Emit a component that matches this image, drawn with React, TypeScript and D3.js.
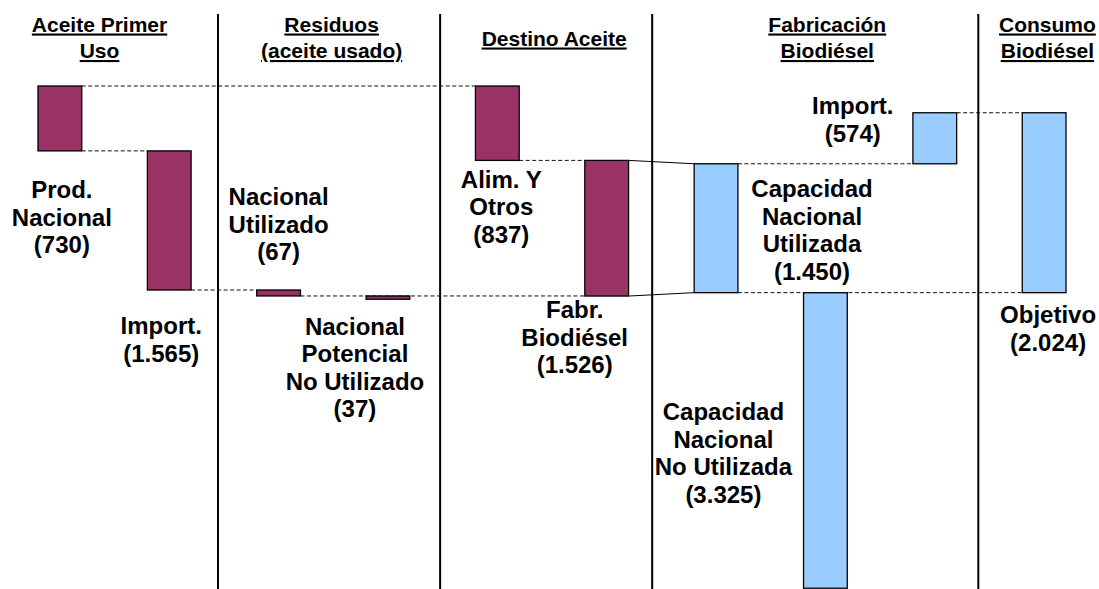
import React from 'react';
import * as d3 from 'd3';

// bars, left to right
const barIds = ['prod', 'import', 'nacUtil', 'nacPot', 'alim', 'fabr', 'capUtil', 'capNoUtil', 'importBio', 'objetivo'];
const barValues = [730, 1565, 67, 37, 837, 1526, 1450, 3325, 574, 2024];
const barLabels = [
    ['Prod.', 'Nacional'],
    ['Import.'],
    ['Nacional', 'Utilizado'],
    ['Nacional', 'Potencial', 'No Utilizado'],
    ['Alim. Y', 'Otros'],
    ['Fabr.', 'Biodiésel'],
    ['Capacidad', 'Nacional', 'Utilizada'],
    ['Capacidad', 'Nacional', 'No Utilizada'],
    ['Import.'],
    ['Objetivo'],
];
const barProduct = ['aceite', 'aceite', 'aceite', 'aceite', 'aceite', 'aceite', 'biodiesel', 'biodiesel', 'biodiesel', 'biodiesel'];

const sectionTitles = [
    ['Aceite Primer', 'Uso'],
    ['Residuos', '(aceite usado)'],
    ['Destino Aceite'],
    ['Fabricación', 'Biodiésel'],
    ['Consumo', 'Biodiésel'],
];

const width = 1099;
const height = 589;
const font = '"Liberation Sans", Arial, Helvetica, sans-serif';
const colors = { aceite: '#993366', biodiesel: '#99CCFF' };

const es = d3.formatLocale({ decimal: ',', thousands: '.', grouping: [3], currency: ['', '€'] });
const fmt = es.format(',');

// waterfall starts
const starts: number[] = [];
starts[0] = 0;
starts[1] = starts[0] + barValues[0];
starts[2] = starts[1] + barValues[1];
starts[3] = starts[2] + barValues[2];
starts[4] = 0;
starts[5] = starts[4] + barValues[4];
// biodiesel side centred on the "Fabr. Biodiésel" bar
const bioTop = starts[5] + barValues[5] / 2 - (barValues[8] + barValues[6] / 2);
starts[8] = bioTop;
starts[6] = bioTop + barValues[8];
starts[7] = starts[6] + barValues[6];
starts[9] = bioTop;
const ends = starts.map((s, i) => s + barValues[i]);

const x = d3.scaleBand<string>().domain(barIds).range([38, 1066]).paddingInner(0.6);
const y = d3.scaleLinear().domain([0, barValues[0] + barValues[1]]).range([86, 290]);
// slot units: 0 = left of first bar, 1 = left of second bar ...
const slot = d3.scaleLinear().domain([0, 9]).range([x(barIds[0])!, x(barIds[9])!]);

const dividerSlots = [1.646, 3.677, 5.616, 8.598];
const titleSlots = [0.5625, 2.685, 4.72, 7.217, 9.23];

const bw = x.bandwidth();
const left = (i: number) => x(barIds[i])!;
const right = (i: number) => x(barIds[i])! + bw;
const cx = (i: number) => x(barIds[i])! + bw / 2;

// label placement relative to bar: [dx from centre, anchor edge, dy of first line centre]
const labelPlace: [number, 'top' | 'bottom', number][] = [
    [2, 'bottom', 39],
    [-8, 'bottom', 36],
    [0, 'top', -93],
    [-33, 'bottom', 27],
    [4, 'bottom', 19],
    [-32, 'bottom', 14],
    [96, 'top', 25],
    [-102, 'top', 119],
    [-82, 'top', -7],
    [4, 'bottom', 22],
];
const lineH = 27.5;

// dashed guides: [y value, from bar (right edge), to bar (left edge)]
const guides: [number, number, number][] = [
    [starts[0], 0, 4],
    [ends[0], 0, 1],
    [ends[1], 1, 2],
    [ends[2], 2, 5],
    [ends[4], 4, 5],
    [starts[6], 6, 8],
    [ends[6], 6, 9],
    [starts[8], 8, 9],
];

export default function App() {
    return (
        <svg width={width} height={height} style={{ position: 'absolute', left: 0, top: 0, background: '#fff' }}
            fontFamily={font}>
            {/* section dividers */}
            {dividerSlots.map((s, i) => (
                <line key={'d' + i} x1={slot(s)} x2={slot(s)} y1={14} y2={height} stroke="#000" strokeWidth={2} />
            ))}

            {/* titles */}
            {sectionTitles.map((lines, i) => (
                <text key={'t' + i} x={slot(titleSlots[i])} textAnchor="middle" fontSize={21} fontWeight="bold"
                    textDecoration="underline">
                    {lines.map((l, j) => (
                        <tspan key={j} x={slot(titleSlots[i])}
                            y={lines.length === 1 ? 45.5 : 31.5 + j * 26.5}>{l}</tspan>
                    ))}
                </text>
            ))}

            {/* bars */}
            {barIds.map((id, i) => (
                <rect key={id} x={left(i)} y={y(starts[i])} width={bw} height={y(ends[i]) - y(starts[i])}
                    fill={colors[barProduct[i] as 'aceite' | 'biodiesel']} stroke="#000" strokeWidth={1.3} />
            ))}

            {/* dashed guides */}
            {guides.map(([v, a, b], i) => (
                <line key={'g' + i} x1={right(a)} x2={left(b)} y1={y(v)} y2={y(v)}
                    stroke="#111" strokeWidth={1} strokeDasharray="4 2.5" />
            ))}

            {/* oil -> biodiesel transfer */}
            <line x1={right(5)} y1={y(starts[5])} x2={left(6)} y2={y(starts[6])} stroke="#000" strokeWidth={1} />
            <line x1={right(5)} y1={y(ends[5])} x2={left(6)} y2={y(ends[6])} stroke="#000" strokeWidth={1} />

            {/* labels */}
            {barIds.map((id, i) => {
                const [dx, edge, dy] = labelPlace[i];
                const lines = [...barLabels[i], `(${fmt(barValues[i])})`];
                const tx = cx(i) + dx;
                const base = (edge === 'top' ? y(starts[i]) : y(ends[i])) + dy;
                return (
                    <text key={'l' + id} textAnchor="middle" fontSize={24} fontWeight="bold" fill="#000">
                        {lines.map((l, j) => (
                            <tspan key={j} x={tx} y={base + j * lineH} dy="0.35em">{l}</tspan>
                        ))}
                    </text>
                );
            })}
        </svg>
    );
}
